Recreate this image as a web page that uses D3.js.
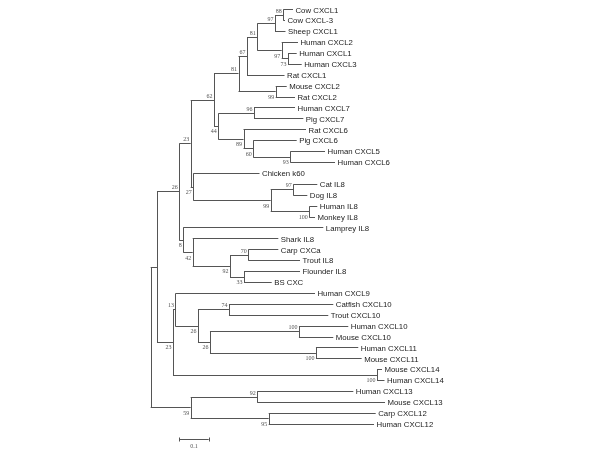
<!DOCTYPE html>
<html>
<head>
<meta charset="utf-8">
<script src="https://cdn.jsdelivr.net/npm/d3@7"></script>
<style>
  html, body { margin: 0; padding: 0; background: #fff; }
  svg { display: block; filter: grayscale(100%); }
</style>
</head>
<body>
<svg id="chart" width="600" height="450"></svg>
<script>
// ---- Data (preorder; children listed top to bottom) ----
const nodes = [
  "root","A","B","C","D","E","F","G","H","K",
  "Cow CXCL1","Cow CXCL-3","Sheep CXCL1","J","Human CXCL2","L","Human CXCL1","Human CXCL3","Rat CXCL1","Mn",
  "Mouse CXCL2","Rat CXCL2","I","N","Human CXCL7","Pig CXCL7","O","Rat CXCL6","Q","Pig CXCL6",
  "R","Human CXCL5","Human CXCL6","M","Chicken k60","S","T","Cat IL8","Dog IL8","V",
  "Human IL8","Monkey IL8","P","Lamprey IL8","W","Shark IL8","X","Y","Carp CXCa","Trout IL8",
  "Z","Flounder IL8","BS CXC","U","AA","Human CXCL9","AB","AC","Catfish CXCL10","Trout CXCL10",
  "AD","AE","Human CXCL10","Mouse CXCL10","AF","Human CXCL11","Mouse CXCL11","AG","Mouse CXCL14","Human CXCL14",
  "AH","AI","Human CXCL13","Mouse CXCL13","AJ","Carp CXCL12","Human CXCL12"
];
const parents = [
  "","root","A","B","C","D","E","F","G","H",
  "K","K","H","G","J","J","L","L","F","E",
  "Mn","Mn","D","I","N","N","I","O","O","Q",
  "Q","R","R","C","M","M","S","T","T","S",
  "V","V","B","P","P","W","W","X","Y","Y",
  "X","Z","Z","A","U","AA","AA","AB","AC","AC",
  "AB","AD","AE","AE","AD","AF","AF","U","AG","AG",
  "root","AH","AI","AI","AH","AJ","AJ"
];
const branchLengths = [
  0,0.0214,0.0759,0.0388,0.0793,0.0833,0.0289,0.0350,0.0602,0.0282,
  0.0330,0.0058,0.0357,0.0830,0.0554,0.0214,0.0296,0.0466,0.1276,0.1265,
  0.0374,0.0656,0.0146,0.1214,0.1395,0.1677,0.0857,0.2126,0.0333,0.1476,
  0.1259,0.1180,0.1520,0.0088,0.2252,0.2633,0.0769,0.0816,0.0476,0.1313,
  0.0272,0.0194,0.0136,0.4762,0.0320,0.2912,0.1269,0.0622,0.1020,0.1759,
  0.0476,0.1905,0.0942,0.0544,0.0085,0.4745,0.0765,0.1054,0.3548,0.3378,
  0.0408,0.3027,0.1677,0.1167,0.3605,0.1439,0.1554,0.6939,0.0170,0.0255,
  0.1361,0.2262,0.3269,0.4347,0.2653,0.3639,0.3582
];
const bootstraps = [
  null,null,26,23,62,81,67,81,97,88,
  null,null,null,97,null,73,null,null,null,99,
  null,null,44,96,null,null,89,null,60,null,
  93,null,null,27,null,99,97,null,null,100,
  null,null,8,null,42,null,92,70,null,null,
  33,null,null,23,13,null,26,74,null,null,
  26,100,null,null,100,null,null,100,null,null,
  59,92,null,null,95,null,null
];
const scaleBarValue = 0.1;
const scaleBarLabel = "0.1";

// ---- Build hierarchy ----
const table = nodes.map((id, i) => ({ id, parent: parents[i] || null, len: branchLengths[i], boot: bootstraps[i] }));
const root = d3.stratify().id(d => d.id).parentId(d => d.parent)(table);

root.each(n => { n.dist = n.parent ? n.parent.dist + n.data.len : 0; });

const leaves = root.leaves();
const x = d3.scaleLinear().domain([0, 1]).range([150.7, 150.7 + 294]);
const yLeaf = d3.scaleLinear().domain([0, leaves.length - 1]).range([9.3, 423.8]);
leaves.forEach((l, i) => { l.py = yLeaf(i); });
root.eachAfter(n => {
  if (n.children) n.py = (n.children[0].py + n.children[n.children.length - 1].py) / 2;
  n.px = x(n.dist);
});

const svg = d3.select("#chart");
const g = svg.append("g");
const stroke = "#555";

g.selectAll("line.h").data(root.descendants().filter(n => n.parent))
  .join("line").attr("class", "h")
  .attr("x1", d => d.parent.px).attr("x2", d => d.px)
  .attr("y1", d => Math.round(d.py) + 0.5).attr("y2", d => Math.round(d.py) + 0.5)
  .attr("stroke", stroke).attr("stroke-width", 1);

g.selectAll("line.v").data(root.descendants().filter(n => n.children))
  .join("line").attr("class", "v")
  .attr("x1", d => Math.round(d.px) + 0.5).attr("x2", d => Math.round(d.px) + 0.5)
  .attr("y1", d => Math.round(d.children[0].py) + 0.5)
  .attr("y2", d => Math.round(d.children[d.children.length - 1].py) + 0.5)
  .attr("stroke", stroke).attr("stroke-width", 1);

g.selectAll("text.leaf").data(leaves)
  .join("text").attr("class", "leaf")
  .attr("x", d => d.px + 2.5).attr("y", d => d.py + 0.5)
  .attr("dy", "0.35em")
  .attr("font-family", "Liberation Sans, Arial, sans-serif")
  .attr("font-size", 7.8)
  .attr("fill", "#222")
  .text(d => d.id);

g.selectAll("text.boot").data(root.descendants().filter(n => n.data.boot != null))
  .join("text").attr("class", "boot")
  .attr("x", d => d.px - 1.5)
  .attr("y", d => {
    const isUpper = d.parent && d.parent.children[0] === d;
    return isUpper ? d.py - 2 : d.py + 7.5;
  })
  .attr("text-anchor", "end")
  .attr("font-family", "Liberation Serif, Times New Roman, serif")
  .attr("font-size", 6)
  .attr("fill", "#555")
  .text(d => d.data.boot);

const sbStart = 0.0973;
const sbY = 439.5;
const sb = svg.append("g");
sb.append("line").attr("x1", x(sbStart)).attr("x2", x(sbStart + scaleBarValue))
  .attr("y1", sbY).attr("y2", sbY).attr("stroke", stroke);
[sbStart, sbStart + scaleBarValue].forEach(v => {
  sb.append("line").attr("x1", Math.round(x(v)) + 0.5).attr("x2", Math.round(x(v)) + 0.5)
    .attr("y1", sbY - 2).attr("y2", sbY + 2).attr("stroke", stroke);
});
sb.append("text").attr("x", x(sbStart + scaleBarValue / 2)).attr("y", sbY + 8)
  .attr("text-anchor", "middle")
  .attr("font-family", "Liberation Serif, Times New Roman, serif")
  .attr("font-size", 6).attr("fill", "#555")
  .text(scaleBarLabel);
</script>
</body>
</html>
